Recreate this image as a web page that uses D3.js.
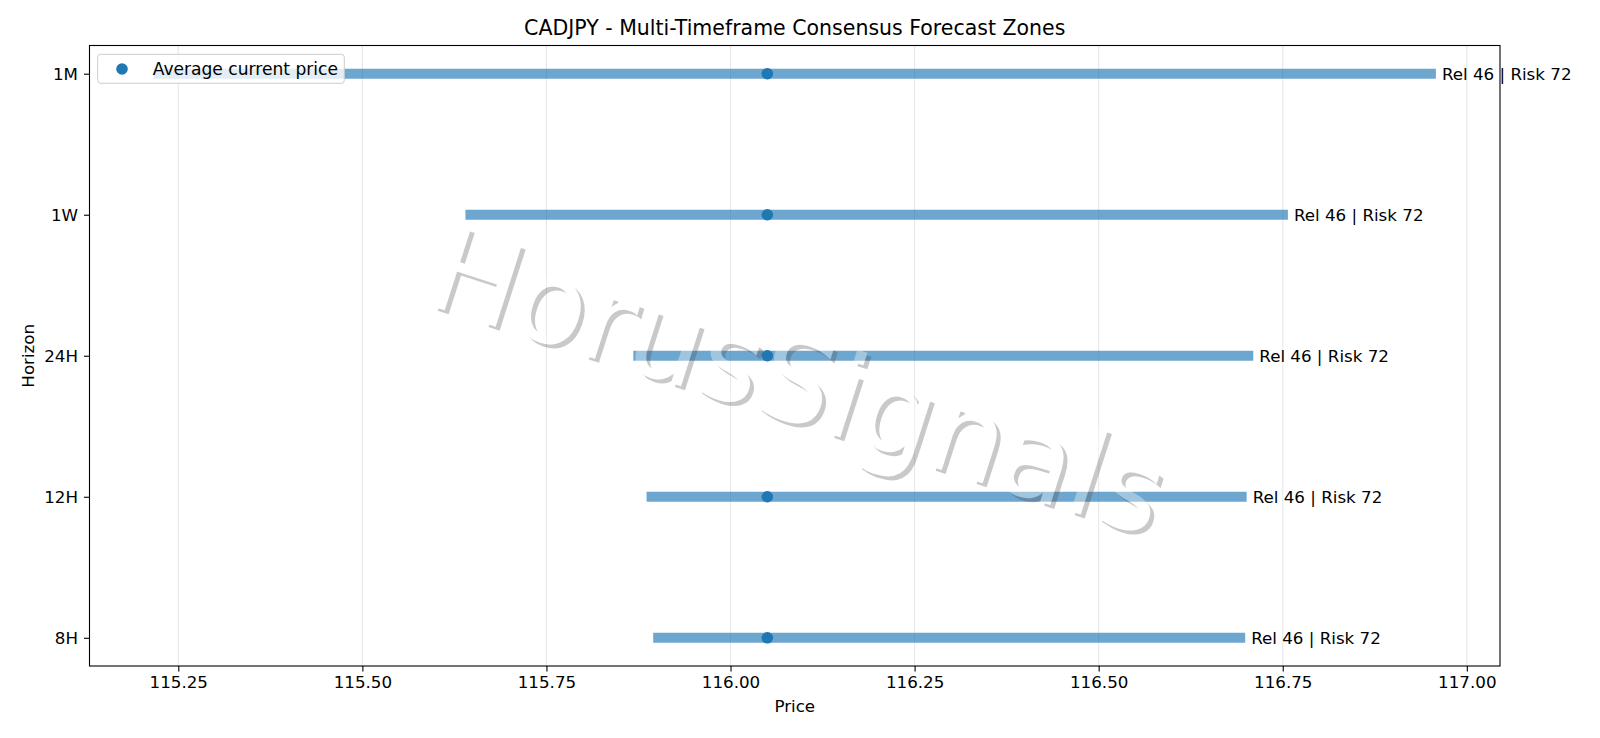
<!DOCTYPE html>
<html>
<head>
<meta charset="utf-8">
<script src="https://cdn.jsdelivr.net/npm/d3@7"></script>
<style>
  html, body { margin: 0; padding: 0; background: #fff; }
  svg { display: block; font-family: "DejaVu Sans", sans-serif; }
</style>
</head>
<body>
<svg id="chart" width="1600" height="738"></svg>
<script>
// ---- data ----
const horizons = ["8H", "12H", "24H", "1W", "1M"];
const zoneLow  = [115.895, 115.886, 115.868, 115.640, 115.2165];
const zoneHigh = [116.699, 116.701, 116.710, 116.757, 116.958];
const currentPrice = [116.050, 116.050, 116.050, 116.050, 116.050];
const zoneLabels = ["Rel 46 | Risk 72", "Rel 46 | Risk 72", "Rel 46 | Risk 72", "Rel 46 | Risk 72", "Rel 46 | Risk 72"];
const xTicks = [115.25, 115.50, 115.75, 116.00, 116.25, 116.50, 116.75, 117.00];
const titleText = "CADJPY - Multi-Timeframe Consensus Forecast Zones";
const xLabel = "Price";
const yLabel = "Horizon";
const legendLabel = "Average current price";
const watermark = "HorusSignals";

// ---- layout ----
const L = 89.5, R = 1500, T = 45.5, B = 666;
const blue = "#1f77b4";
const fs = 16.7;

const svg = d3.select("#chart");

const lo = d3.min(zoneLow), hi = d3.max(zoneHigh);
const pad = (hi - lo) * 0.05;
const x = d3.scaleLinear().domain([lo - pad, hi + pad]).range([L, R]);
const y = d3.scaleLinear().domain([-0.2, horizons.length - 1 + 0.2]).range([B, T]);

// grid
svg.append("g").selectAll("line").data(xTicks).join("line")
  .attr("x1", d => x(d)).attr("x2", d => x(d))
  .attr("y1", T).attr("y2", B)
  .attr("stroke", "#b0b0b0").attr("stroke-opacity", 0.3).attr("stroke-width", 1.1);

// bars
svg.append("g").selectAll("line").data(horizons).join("line")
  .attr("x1", (d, i) => x(zoneLow[i])).attr("x2", (d, i) => x(zoneHigh[i]))
  .attr("y1", (d, i) => y(i)).attr("y2", (d, i) => y(i))
  .attr("stroke", blue).attr("stroke-opacity", 0.65).attr("stroke-width", 10);

// dots
svg.append("g").selectAll("circle").data(horizons).join("circle")
  .attr("cx", (d, i) => x(currentPrice[i])).attr("cy", (d, i) => y(i))
  .attr("r", 5.8).attr("fill", blue);

// labels
svg.append("g").selectAll("text").data(horizons).join("text")
  .attr("x", (d, i) => x(zoneHigh[i]) + 6).attr("y", (d, i) => y(i))
  .attr("dy", "0.36em")
  .attr("font-size", fs).attr("fill", "#000")
  .text((d, i) => zoneLabels[i]);

// watermark: shadow visible only outside glyph, glyph semi-transparent white
const wmX = 786, wmY = 420, wmRot = 17.8, wmSize = 117, off = 4;
const defs = svg.append("defs");
const mask = defs.append("mask").attr("id", "wmMask").attr("maskUnits", "userSpaceOnUse")
  .attr("x", 0).attr("y", 0).attr("width", 1600).attr("height", 738);
mask.append("rect").attr("width", 1600).attr("height", 738).attr("fill", "#fff");
mask.append("text")
  .attr("transform", `translate(${wmX},${wmY}) rotate(${wmRot})`)
  .attr("text-anchor", "middle").attr("font-size", wmSize).attr("fill", "#000")
  .attr("font-family", "DejaVu Sans")
  .text(watermark);

const wm = svg.append("g");
wm.append("g").attr("mask", "url(#wmMask)")
  .append("text")
  .attr("transform", `translate(${wmX + off},${wmY + off}) rotate(${wmRot})`)
  .attr("text-anchor", "middle").attr("font-size", wmSize)
  .attr("fill", "rgb(77,77,77)").attr("fill-opacity", 0.3)
  .text(watermark);
wm.append("text")
  .attr("transform", `translate(${wmX},${wmY}) rotate(${wmRot})`)
  .attr("text-anchor", "middle").attr("font-size", wmSize)
  .attr("fill", "#fff").attr("fill-opacity", 0.35)
  .text(watermark);

// axes
const xAxis = d3.axisBottom(x).tickValues(xTicks).tickFormat(d3.format(".2f")).tickSizeOuter(0).tickSize(5.5).tickPadding(5);
const gx = svg.append("g").attr("transform", `translate(0,${B})`).call(xAxis);
gx.select(".domain").remove();
gx.selectAll("text").attr("font-size", fs).attr("font-family", "DejaVu Sans").attr("fill", "#000");
gx.selectAll("line").attr("stroke", "#000").attr("stroke-width", 1.1);

const yAxis = d3.axisLeft(y).tickValues(d3.range(horizons.length)).tickFormat(i => horizons[i]).tickSizeOuter(0).tickSize(5.5).tickPadding(6);
const gy = svg.append("g").attr("transform", `translate(${L},0)`).call(yAxis);
gy.select(".domain").remove();
gy.selectAll("text").attr("font-size", fs).attr("font-family", "DejaVu Sans").attr("fill", "#000");
gy.selectAll("line").attr("stroke", "#000").attr("stroke-width", 1.1);

// frame
svg.append("rect").attr("x", L).attr("y", T).attr("width", R - L).attr("height", B - T)
  .attr("fill", "none").attr("stroke", "#000").attr("stroke-width", 1.1);

// titles
svg.append("text").attr("x", (L + R) / 2).attr("y", 34.5).attr("text-anchor", "middle")
  .attr("font-size", 20.5).text(titleText);
svg.append("text").attr("x", (L + R) / 2).attr("y", 712).attr("text-anchor", "middle")
  .attr("font-size", fs).text(xLabel);
svg.append("text").attr("transform", `translate(33.5,${(T + B) / 2}) rotate(-90)`).attr("text-anchor", "middle")
  .attr("font-size", fs).text(yLabel);

// legend
const lg = svg.append("g");
lg.append("rect").attr("x", 97.7).attr("y", 54.3).attr("width", 246.6).attr("height", 29)
  .attr("rx", 3).attr("fill", "#fff").attr("fill-opacity", 0.8)
  .attr("stroke", "#cccccc").attr("stroke-width", 1);
lg.append("circle").attr("cx", 122).attr("cy", 69).attr("r", 5.8).attr("fill", blue);
lg.append("text").attr("x", 152.7).attr("y", 69).attr("dy", "0.36em").attr("font-size", 17.1).text(legendLabel);
</script>
</body>
</html>
